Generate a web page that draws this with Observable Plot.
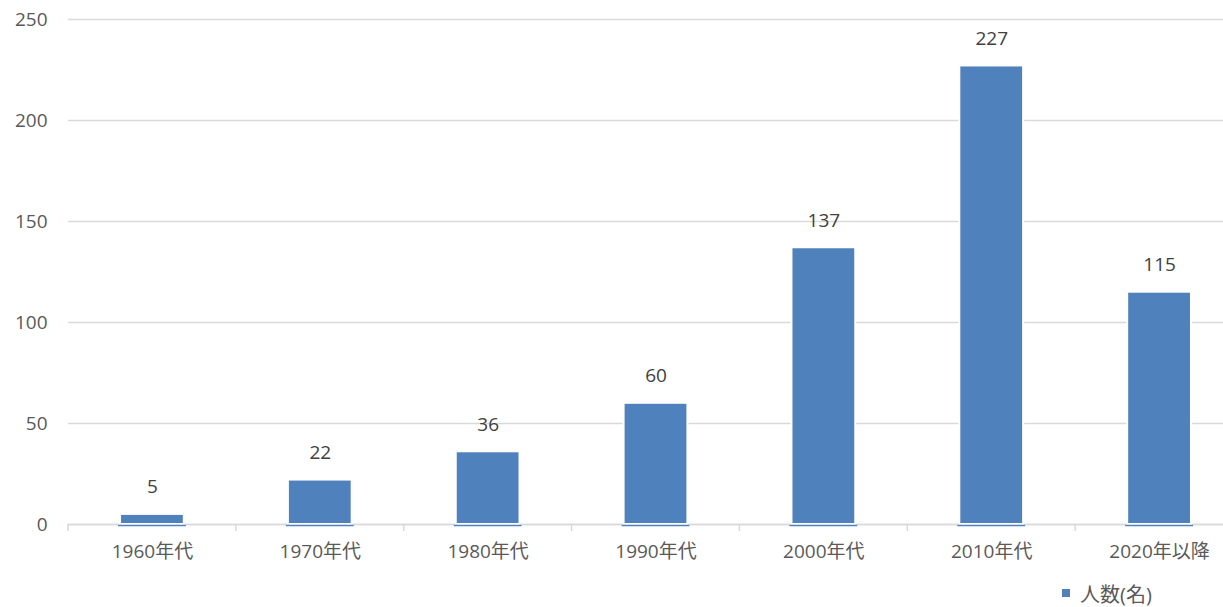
<!DOCTYPE html>
<html>
<head>
<meta charset="utf-8">
<script src="https://cdn.jsdelivr.net/npm/d3@7"></script>
<script src="https://cdn.jsdelivr.net/npm/@observablehq/plot@0.6"></script>
<style>
  body { margin: 0; background: #fff; overflow: hidden; font-family: "Open Sans", "Noto Sans CJK JP", sans-serif; }
  #legend { position: relative; height: 32px; font-size: 20px; color: #595959; }
  #legend .item { position: absolute; left: 1062px; top: 2px; display: flex; align-items: center; height: 32px; }
  #legend .sw { width: 8px; height: 8px; background: #4F81BD; margin-right: 10px; }
</style>
</head>
<body>
<div id="chart"></div>
<div id="legend"><div class="item"><span class="sw"></span><span>人数(名)</span></div></div>
<script>
const categories = ["1960年代", "1970年代", "1980年代", "1990年代", "2000年代", "2010年代", "2020年以降"];
const counts = [5, 22, 36, 60, 137, 227, 115];
const yTicks = [0, 50, 100, 150, 200, 250];
const seriesName = "人数(名)";

const data = categories.map((c, i) => ({category: c, value: counts[i]}));

const barColor = "#4F81BD";
const gridColor = "#d9d9d9";

function bandBoundaries(index, scales, values, dims) {
  const x = scales.x, y = scales.y;
  const n = categories.length;
  const step = (x && typeof x.step === "function") ? x.step() : (dims.width - dims.marginLeft - dims.marginRight) / n;
  const bw = (x && typeof x.bandwidth === "function") ? x.bandwidth() : step * 0.38;
  const y0 = y(0);
  const g = d3.create("svg:g").attr("stroke", gridColor).attr("stroke-width", 1.5);
  const xs = categories.map(c => x(c) - (step - bw) / 2);
  xs.push(x(categories[n - 1]) + bw + (step - bw) / 2);
  for (const xx of xs) {
    g.append("line").attr("x1", xx).attr("x2", xx).attr("y1", y0).attr("y2", y0 + 7);
  }
  return g.node();
}

const chart = Plot.plot({
  width: 1223,
  height: 575,
  marginLeft: 68,
  marginRight: -20,
  marginTop: 19,
  marginBottom: 51,
  style: {fontFamily: '"Open Sans", "Noto Sans CJK JP", sans-serif', fontSize: "19px", color: "#595959", background: "#fff", overflow: "hidden"},
  x: {domain: categories, paddingInner: 0.62, paddingOuter: 0.31, round: false, label: null},
  y: {domain: [0, 250], label: null},
  marks: [
    Plot.gridY(yTicks, {stroke: gridColor, strokeOpacity: 1, strokeWidth: 1.5}),
    Plot.axisY(yTicks, {tickSize: 0, tickPadding: 21, fill: "#595959", fontSize: 19, label: null}),
    Plot.axisX({tickSize: 0, tickPadding: 20, fill: "#595959", fontSize: 19, label: null}),
    Plot.ruleY([0], {stroke: gridColor, strokeWidth: 1.5}),
    Plot.barY(data, {x: "category", y: "value", fill: barColor, stroke: "#ffffff", strokeWidth: 2, title: d => `${d.category}: ${d.value}`}),
    Plot.tickY(data, {x: "category", y: () => 0, stroke: barColor, strokeWidth: 1.5, dy: 1, insetLeft: -2, insetRight: -2}),
    Plot.text(data, {x: "category", y: "value", text: d => String(d.value), dy: -27, fill: "#404040", fontSize: 19}),
    bandBoundaries
  ]
});
document.getElementById("chart").appendChild(chart);
</script>
</body>
</html>
